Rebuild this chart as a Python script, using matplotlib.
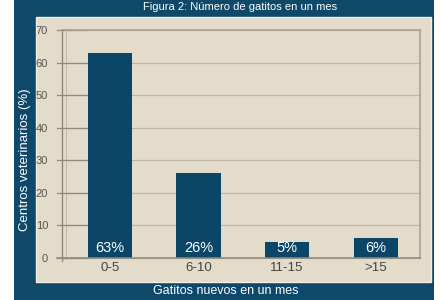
import matplotlib
matplotlib.use("Agg")
import matplotlib.pyplot as plt
from matplotlib.patches import Rectangle

categories = ["0-5", "6-10", "11-15", ">15"]
values = [63, 26, 5, 6]
bar_labels = ["63%", "26%", "5%", "6%"]
yticks = [0, 10, 20, 30, 40, 50, 60, 70]

BLUE = "#0e4969"
BAR = "#0b4567"
BEIGE = "#e4dcca"
GRID = "#bdb6a3"
DARK = "#8f8978"

plt.rcParams['font.family'] = ['Liberation Sans', 'DejaVu Sans']

W, H = 440, 300
fig = plt.figure(figsize=(4.4, 3.0), dpi=100, facecolor="white")

def fx(px):
    return px / W

def fy(py):
    return 1 - py / H

# blue panel
fig.patches.append(Rectangle((fx(14), 0), fx(434) - fx(14), 1, transform=fig.transFigure,
                             facecolor=BLUE, edgecolor="none", zorder=0))
# beige panel
fig.patches.append(Rectangle((fx(36), fy(282)), fx(431) - fx(36), fy(17) - fy(282),
                             transform=fig.transFigure, facecolor=BEIGE,
                             edgecolor="#f2eee4", linewidth=1.0, zorder=0.5))

# title (reference shows it cut at the top edge)
fig.text(fx(240), fy(7), "Figura 2: Número de gatitos en un mes", color="white",
         fontsize=8, ha="center", va="center")

ax = fig.add_axes([fx(62), fy(258), fx(420) - fx(62), fy(30) - fy(258)])
ax.set_zorder(2)
ax.set_facecolor("none")
ax.set_xlim(-0.54, 3.5)
ax.set_ylim(0, 70)
for s in ax.spines.values():
    s.set_visible(False)

x = list(range(len(categories)))
# grid lines
for yv in yticks:
    ax.plot([-0.54, 3.5], [yv, yv], color=GRID, lw=0.9, clip_on=False, zorder=1)
    ax.plot([-0.6, -0.25], [yv, yv], color=DARK, lw=0.9, clip_on=False, zorder=1.2)
ax.plot([-0.6, 3.5], [0, 0], color=DARK, lw=1.1, clip_on=False, zorder=3.5)
ax.plot([-0.54, 3.5], [70, 70], color="#aaa390", lw=1.2, clip_on=False, zorder=1.2)
# left axis (double) and right frame
ax.plot([-0.54, -0.54], [-0.8, 70], color=DARK, lw=1.0, clip_on=False, zorder=1.3)
ax.plot([-0.495, -0.495], [0, 70], color="#c2bba8", lw=0.8, clip_on=False, zorder=1)
ax.plot([3.5, 3.5], [0, 70], color="#aaa390", lw=1.2, clip_on=False, zorder=1)

ax.bar(x, values, width=0.5, color=BAR, zorder=3)
for xi, lab in zip(x, bar_labels):
    ax.text(xi, 0.8, lab, color="white", fontsize=10.5, ha="center", va="bottom", zorder=4)

ax.set_yticks(yticks)
ax.set_yticklabels([str(v) for v in yticks], fontsize=8, color="#555555")
ax.set_xticks(x)
ax.set_xticklabels(categories, fontsize=9.5, color="#444444")
ax.tick_params(axis="y", length=0, pad=10)
ax.tick_params(axis="x", length=0, pad=3)

fig.text(fx(25), fy(160), "Centros veterinarios (%)", color="white", fontsize=9.5,
         rotation=90, ha="center", va="center")
fig.text(fx(226), fy(291), "Gatitos nuevos en un mes", color="white", fontsize=9,
         ha="center", va="center")

fig.savefig("out.png", dpi=100, facecolor="white")
